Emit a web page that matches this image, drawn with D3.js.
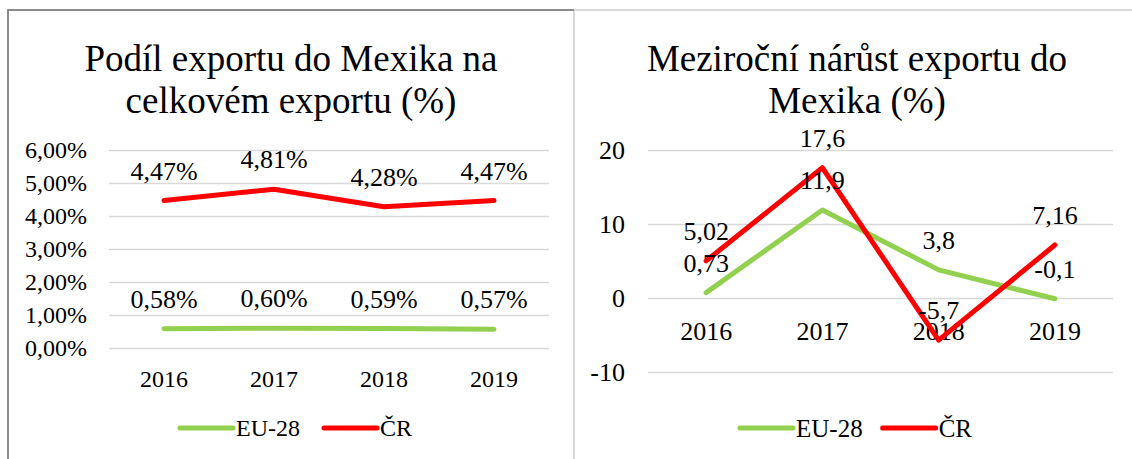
<!DOCTYPE html>
<html>
<head>
<meta charset="utf-8">
<script src="https://cdn.jsdelivr.net/npm/d3@7"></script>
<style>
  html, body { margin: 0; padding: 0; background: #fff; }
  svg text { font-family: "Liberation Serif", "Times New Roman", Times, "DejaVu Serif", serif; }
</style>
</head>
<body>
<svg id="chart" width="1132" height="459"></svg>
<script>
// Years shown on both panels
const years = ["2016", "2017", "2018", "2019"];

// Share of exports to Mexico in total exports (%)
const shareEU = [0.58, 0.60, 0.59, 0.57];
const shareCZ = [4.47, 4.81, 4.28, 4.47];
const shareTicks = [0, 1, 2, 3, 4, 5, 6];

// Year-on-year growth of exports to Mexico (%)
const growthEU = [0.73, 11.9, 3.8, -0.1];
const growthCZ = [5.02, 17.6, -5.7, 7.16];
const growthTicks = [-10, 0, 10, 20];

const seriesNames = ["EU-28", "ČR"];
const colors = { eu: "#92d050", cz: "#ff0000" };
const serif = "'Liberation Serif', 'Times New Roman', Times, 'DejaVu Serif', serif";

const svg = d3.select("#chart");
svg.append("rect").attr("width", 1132).attr("height", 459).attr("fill", "#fff");

// panel frames
svg.append("path").attr("d", "M574,10 V459 M574,10 H1132")
  .attr("fill", "none").attr("stroke", "#d9d9d9").attr("stroke-width", 2);
svg.append("path").attr("d", "M8,459 V10 H574")
  .attr("fill", "none").attr("stroke", "#8c8c8c").attr("stroke-width", 2);

const comma = v => String(v).replace(".", ",");

function drawPanel(cfg) {
  const g = svg.append("g").attr("font-family", serif);

  // title
  const title = g.append("text")
    .attr("x", cfg.titleX).attr("text-anchor", "middle")
    .attr("font-family", serif)
    .attr("font-size", 37).attr("fill", "#000");
  cfg.title.forEach((line, i) => {
    title.append("tspan").attr("x", cfg.titleX).attr("y", cfg.titleY + i * 42).text(line);
  });

  const x = d3.scaleBand().domain(years).range(cfg.xRange);
  const y = d3.scaleLinear().domain(cfg.yDomain).range(cfg.yRange);

  // gridlines + value axis
  const yAxis = g.append("g")
    .attr("transform", `translate(${cfg.xRange[0]},0)`)
    .call(d3.axisLeft(y).tickValues(cfg.ticks)
      .tickSize(-(cfg.xRange[1] - cfg.xRange[0]))
      .tickPadding(cfg.yPad)
      .tickFormat(cfg.tickFormat));
  yAxis.attr("font-family", serif);
  yAxis.select(".domain").remove();
  yAxis.selectAll(".tick line").attr("stroke", "#d9d9d9").attr("stroke-width", 1.5);
  yAxis.selectAll(".tick text").attr("font-size", cfg.tickSize).attr("fill", "#000")
    .attr("font-family", serif);

  // category axis
  const xAxis = g.append("g")
    .attr("transform", `translate(0,${y(cfg.xAxisAt)})`)
    .call(d3.axisBottom(x).tickSize(0).tickPadding(cfg.xPad));
  xAxis.attr("font-family", serif);
  xAxis.select(".domain").remove();
  xAxis.selectAll(".tick text").attr("font-size", cfg.yearSize).attr("fill", "#000")
    .attr("font-family", serif);

  const line = d3.line()
    .x((d, i) => x(years[i]) + x.bandwidth() / 2)
    .y(d => y(d));

  const series = [
    { key: "eu", values: cfg.eu },
    { key: "cz", values: cfg.cz }
  ];

  series.forEach(s => {
    g.append("path").datum(s.values)
      .attr("d", line)
      .attr("fill", "none")
      .attr("stroke", colors[s.key])
      .attr("stroke-width", 5)
      .attr("stroke-linejoin", "round")
      .attr("stroke-linecap", "round");
  });

  // value labels above each point
  series.forEach(s => {
    g.selectAll(null).data(s.values).enter().append("text")
      .attr("x", (d, i) => x(years[i]) + x.bandwidth() / 2)
      .attr("y", d => y(d) - 30)
      .attr("dy", "0.35em")
      .attr("text-anchor", "middle")
      .attr("font-family", serif)
      .attr("font-size", cfg.labelSize)
      .attr("fill", "#000")
      .text(cfg.labelFormat);
  });

  // legend
  const lg = g.append("g").attr("transform", `translate(${cfg.legendX},428)`);
  let lx = 0;
  series.forEach((s, i) => {
    lg.append("line").attr("x1", lx).attr("x2", lx + 53).attr("y1", 0).attr("y2", 0)
      .attr("stroke", colors[s.key]).attr("stroke-width", 5).attr("stroke-linecap", "round");
    const t = lg.append("text").attr("x", lx + 56).attr("dy", "0.35em")
      .attr("font-family", serif)
      .attr("font-size", cfg.legendSize).attr("fill", "#000").text(seriesNames[i]);
    lx += 56 + t.node().getComputedTextLength() + cfg.legendGap;
  });
}

drawPanel({
  title: ["Podíl exportu do Mexika na", "celkovém exportu (%)"],
  titleX: 291, titleY: 71,
  xRange: [109, 549], yRange: [348, 150], yDomain: [0, 6],
  ticks: shareTicks, tickFormat: d => d3.format(".2f")(d).replace(".", ",") + "%",
  yPad: 22, tickSize: 24, yearSize: 24, labelSize: 26, legendSize: 24, legendGap: 24,
  xAxisAt: 0, xPad: 22,
  eu: shareEU, cz: shareCZ,
  labelFormat: d => d3.format(".2f")(d).replace(".", ",") + "%",
  legendX: 180
});

drawPanel({
  title: ["Meziroční nárůst exportu do", "Mexika (%)"],
  titleX: 857, titleY: 71,
  xRange: [648, 1113], yRange: [372, 150], yDomain: [-10, 20],
  ticks: growthTicks, tickFormat: d => String(d),
  yPad: 23, tickSize: 26, yearSize: 26, labelSize: 26, legendSize: 25, legendGap: 20,
  xAxisAt: 0, xPad: 24,
  eu: growthEU, cz: growthCZ,
  labelFormat: comma,
  legendX: 740
});
</script>
</body>
</html>
